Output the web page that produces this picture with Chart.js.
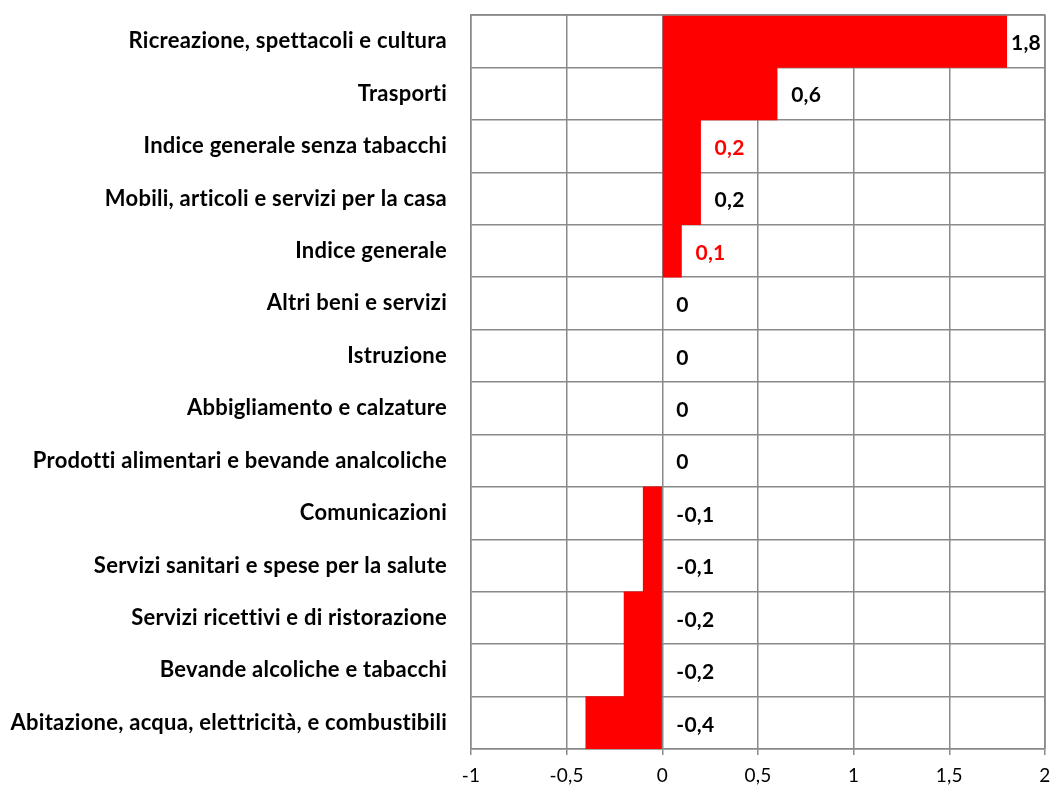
<!DOCTYPE html>
<html>
<head>
<meta charset="utf-8">
<script src="https://cdn.jsdelivr.net/npm/chart.js@4"></script>
<style>
  html, body { margin: 0; padding: 0; background: #fff; }
  #wrap { width: 1053px; height: 785px; }
</style>
</head>
<body>
<div id="wrap"><canvas id="barChart" width="1053" height="785"></canvas></div>
<script>
const categories = [
  'Ricreazione, spettacoli e cultura',
  'Trasporti',
  'Indice generale senza tabacchi',
  'Mobili, articoli e servizi per la casa',
  'Indice generale',
  'Altri beni e servizi',
  'Istruzione',
  'Abbigliamento e calzature',
  'Prodotti alimentari e bevande analcoliche',
  'Comunicazioni',
  'Servizi sanitari e spese per la salute',
  'Servizi ricettivi e di ristorazione',
  'Bevande alcoliche e tabacchi',
  'Abitazione, acqua, elettricità, e combustibili'
];
const values = [1.8, 0.6, 0.2, 0.2, 0.1, 0, 0, 0, 0, -0.1, -0.1, -0.2, -0.2, -0.4];
const labelColors = ['#000', '#000', '#ff0000', '#000', '#ff0000', '#000', '#000', '#000', '#000', '#000', '#000', '#000', '#000', '#000'];
const xTicks = [-1, -0.5, 0, 0.5, 1, 1.5, 2];

const fontFamily = 'Lato, "Open Sans", sans-serif';
const fmt = v => String(v).replace('.', ',');

const valueLabels = {
  id: 'valueLabels',
  afterDatasetsDraw(chart) {
    const ctx = chart.ctx;
    const xs = chart.scales.x;
    const area = chart.chartArea;
    const meta = chart.getDatasetMeta(0);
    ctx.save();
    ctx.font = 'bold 21px ' + fontFamily;
    ctx.textBaseline = 'middle';
    ctx.textAlign = 'left';
    meta.data.forEach((bar, i) => {
      const txt = fmt(values[i]);
      const w = ctx.measureText(txt).width;
      let x = xs.getPixelForValue(Math.max(values[i], 0)) + 14;
      if (x + w > area.right - 4) x = area.right - 4 - w;
      ctx.fillStyle = labelColors[i];
      ctx.fillText(txt, x, bar.y + 2);
    });
    ctx.restore();
  }
};

// a little letter spacing widens Lato towards Calibri and drops the "ti" ligature
const spacing = {
  id: 'spacing',
  beforeDraw(chart) { chart.ctx.letterSpacing = '0.25px'; }
};

new Chart(document.getElementById('barChart').getContext('2d'), {
  type: 'bar',
  data: {
    labels: categories,
    datasets: [{
      data: values,
      // zero-width bars would leave a red hairline over the grid
      backgroundColor: c => (c.raw === 0 ? 'rgba(0,0,0,0)' : '#ff0000'),
      borderWidth: 0,
      barPercentage: 1,
      categoryPercentage: 1
    }]
  },
  options: {
    indexAxis: 'y',
    responsive: false,
    animation: false,
    layout: { padding: { top: 15, right: 8, left: 0, bottom: 0 } },
    plugins: { legend: { display: false }, tooltip: { enabled: false } },
    scales: {
      x: {
        min: -1,
        max: 2,
        afterBuildTicks: s => { s.ticks = xTicks.map(v => ({ value: v })); },
        afterFit: s => { s.height = 36; s.paddingLeft = 0; s.paddingRight = 0; },
        grid: { color: '#8a8a8a', lineWidth: 1.5, tickLength: 6, drawTicks: true },
        border: { color: '#8a8a8a', width: 1.5 },
        ticks: {
          color: '#000',
          font: { family: fontFamily, size: 19 },
          padding: 9,
          maxRotation: 0,
          callback: v => fmt(v)
        }
      },
      y: {
        afterFit: s => { s.width = 471; s.paddingTop = 0; s.paddingBottom = 0; },
        grid: { color: '#8a8a8a', lineWidth: 1.5, offset: true, drawTicks: false },
        border: { color: '#8a8a8a', width: 1.5 },
        ticks: {
          color: '#000',
          font: { family: fontFamily, size: 22, weight: 'bold' },
          padding: 24,
          autoSkip: false
        }
      }
    }
  },
  plugins: [spacing, valueLabels, {
    id: 'frame',
    afterDraw(chart) {
      const a = chart.chartArea, ctx = chart.ctx;
      ctx.save();
      ctx.strokeStyle = '#8a8a8a';
      ctx.lineWidth = 1.5;
      ctx.beginPath();
      ctx.moveTo(a.left, a.top);
      ctx.lineTo(a.right, a.top);
      ctx.lineTo(a.right, a.bottom);
      ctx.stroke();
      ctx.restore();
    }
  }]
});
</script>
</body>
</html>
